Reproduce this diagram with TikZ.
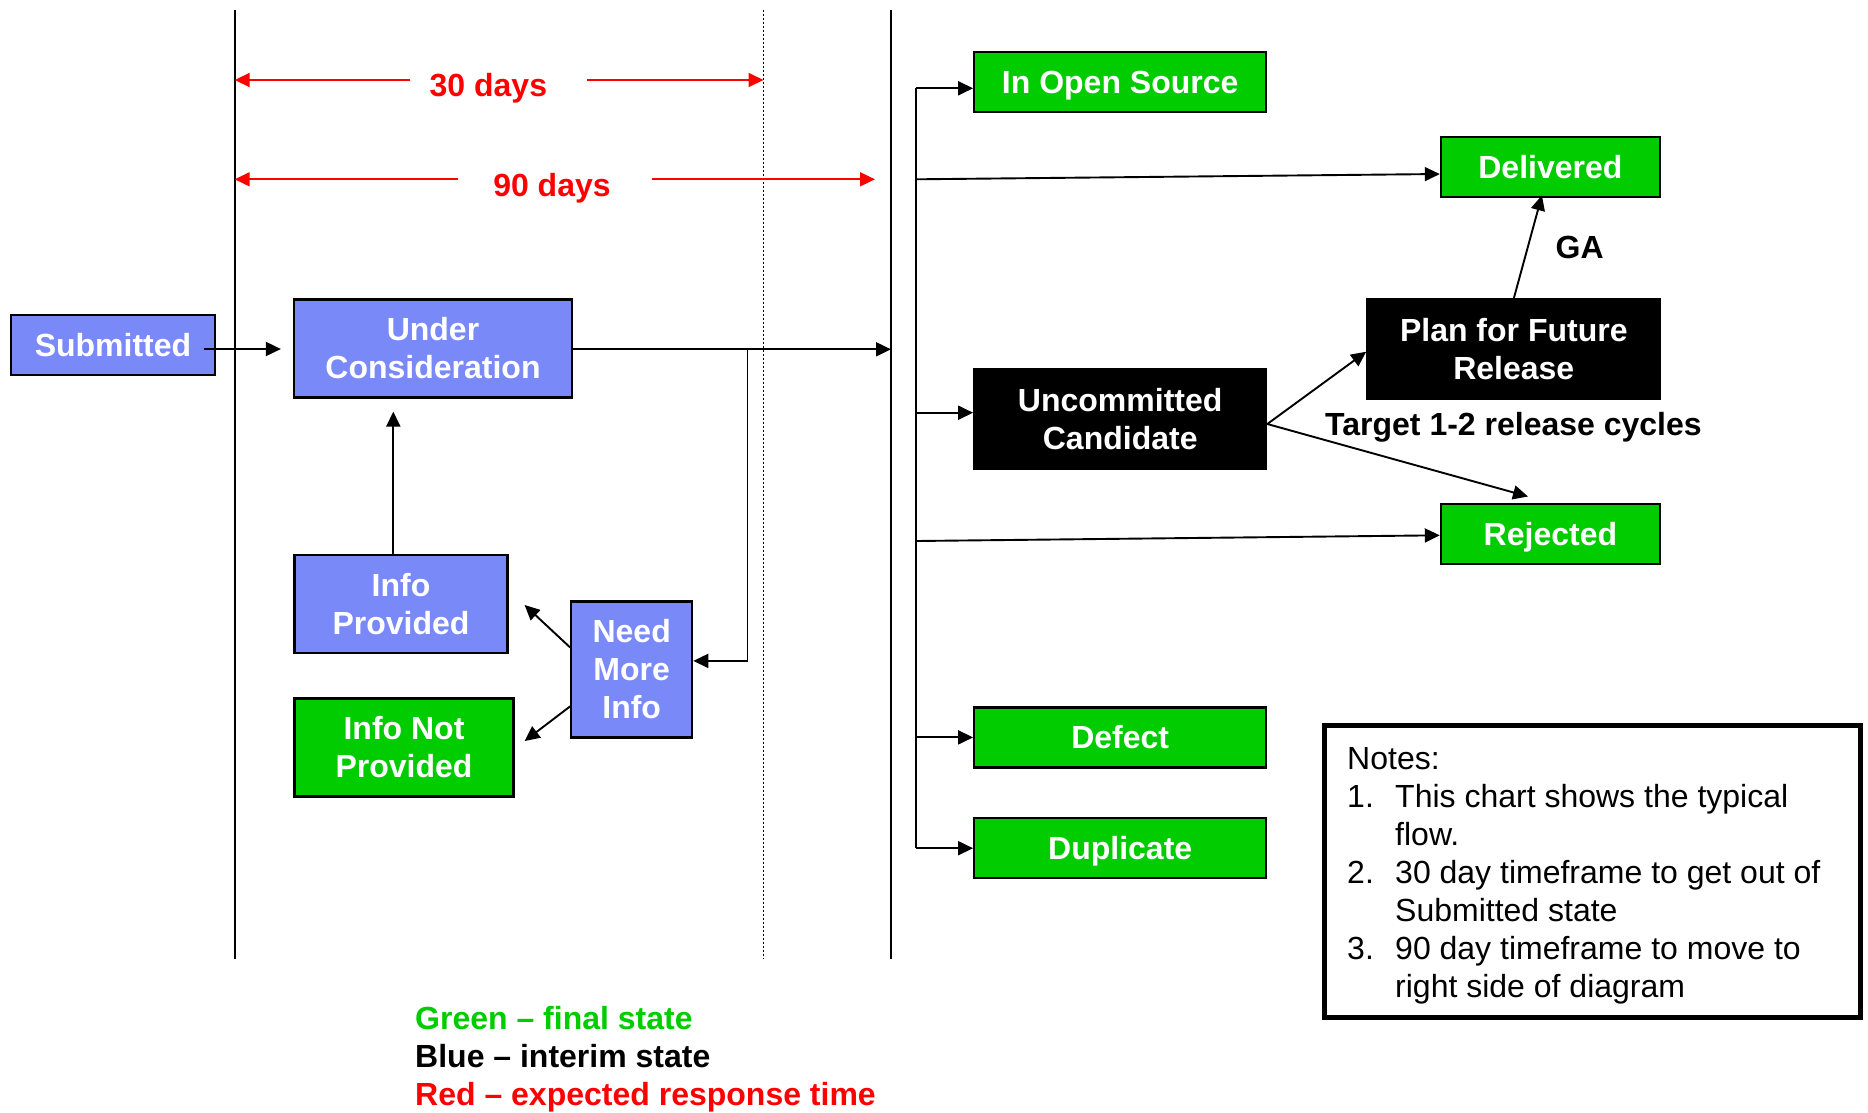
\documentclass[tikz,border=0pt]{standalone}
\usepackage{fontspec}
\setmainfont{Liberation Sans}
\usetikzlibrary{arrows.meta,calc}
\definecolor{boxblue}{RGB}{122,137,248}
\definecolor{boxgreen}{RGB}{0,204,0}
\definecolor{txtred}{RGB}{255,0,0}
\begin{document}
\begin{tikzpicture}[x=1pt,y=-1pt,
  every node/.style={font=\fontsize{32}{38}\selectfont\bfseries, inner sep=0pt},
  stbox/.style={draw=black, line width=2.2pt, text=white, align=center},
  bluebox/.style={stbox, fill=boxblue},
  greenbox/.style={stbox, fill=boxgreen},
  blackbox/.style={stbox, fill=black},
  oneline/.style={text height=23pt, text depth=0pt},
  ln/.style={line width=1.9pt},
  arr/.style={line width=1.9pt, -{Triangle[length=15pt,width=14pt]}},
  rarr/.style={draw=txtred, line width=1.9pt, -{Triangle[length=15pt,width=14pt]}},
  redlbl/.style={text=txtred, anchor=base},
]
\useasboundingbox (0,0) rectangle (1868,1112);

% vertical guide lines
\coordinate (LT) at (234.7,9.5);  \coordinate (LB) at (234.7,959);
\coordinate (DT) at (763.5,9.5);  \coordinate (DB) at (763.5,959);
\coordinate (RT) at (891,9.5);    \coordinate (RB) at (891,959);
\draw[ln] (LT) -- (LB);
\draw[ln] (RT) -- (RB);
\draw[line width=1.2pt, dash pattern=on 2pt off 2pt] (DT) -- (DB);

% response-time arrows
\node[redlbl] (t30) at (488.4,96) {30 days};
\node[redlbl] (t90) at (552,196.7) {90 days};
\coordinate (L30) at (234.7,80);  \coordinate (R30) at (763.5,80);
\coordinate (L90) at (234.7,179.3); \coordinate (R90) at (875,179.3);
\draw[rarr] ([xshift=-19pt]t30.west |- L30) -- (L30);
\draw[rarr] ([xshift=40pt]t30.east |- R30) -- (R30);
\draw[rarr] ([xshift=-35pt]t90.west |- L90) -- (L90);
\draw[rarr] ([xshift=41pt]t90.east |- R90) -- (R90);

% left part
\node[bluebox, oneline, minimum width=204, minimum height=60] (sub) at (113,345) {Submitted};
\node[bluebox, minimum width=278, minimum height=98] (uc) at (433,348.5) {Under\\Consideration};
\node[bluebox, minimum width=213, minimum height=98] (ip) at (401,604) {Info\\Provided};
\node[greenbox, minimum width=219, minimum height=98] (inp) at (404,747.5) {Info Not\\Provided};
\node[bluebox, minimum width=121, minimum height=136] (nmi) at (631.7,669.4) {Need\\More\\Info};

\coordinate (BR) at (747.5,0);
\draw[arr] ([xshift=-12pt,yshift=-4pt]sub.east) -- ([xshift=-12pt,yshift=-4pt]sub.east -| uc.west);
\draw[arr] ([yshift=-0.8pt]uc.east) -- ([yshift=-0.8pt]uc.east -| RT);
\draw[arr] ([yshift=-0.8pt]uc.east -| BR) |- ([yshift=8.5pt]nmi.east);
\draw[arr, shorten >=13pt] ([xshift=-7.7pt]ip.north) -- ([xshift=-7.7pt]ip.north |- uc.south);
\draw[arr] ([yshift=22pt]nmi.west) -- ([xshift=16pt,yshift=-1pt]ip.east);
\draw[arr] ([yshift=-37pt]nmi.west) -- ([xshift=10pt,yshift=6.5pt]inp.east);

% right part
\node[greenbox, oneline, minimum width=292, minimum height=60] (ios) at (1120.2,81.7) {In Open Source};
\node[greenbox, oneline, minimum width=219, minimum height=60] (del) at (1550.4,167.3) {Delivered};
\node[blackbox, minimum width=292, minimum height=99] (ucc) at (1120.2,419) {Uncommitted\\Candidate};
\node[blackbox, minimum width=293, minimum height=99] (plan) at (1513.8,349) {Plan for Future\\Release};
\node[greenbox, oneline, minimum width=219, minimum height=60] (rej) at (1550.4,534.2) {Rejected};
\node[greenbox, oneline, minimum width=292, minimum height=60] (def) at (1120.2,737.4) {Defect};
\node[greenbox, oneline, minimum width=292, minimum height=60] (dup) at (1120.2,848.2) {Duplicate};

\coordinate (BT) at (916.3,88.3);
\coordinate (BB) at (916.3,848.2);
\coordinate (BD) at (916.3,179.3);
\coordinate (BU) at (916.3,412.7);
\coordinate (BJ) at (916.3,541);
\draw[ln] (BT) -- (BB);
\draw[arr] (BT) -- (BT -| ios.west);
\draw[arr] (BD) -- ([yshift=-6.7pt]del.west);
\draw[arr] (BU) -- (BU -| ucc.west);
\draw[arr] (BJ) -- ([yshift=-1.1pt]rej.west);
\draw[arr] (BT |- def.west) -- (def.west);
\draw[arr] (BB) -- (dup.west);

\draw[arr] ([yshift=-5pt]ucc.east) -- ([yshift=-2.7pt]plan.west);
\draw[arr] ([yshift=-5pt]ucc.east) -- ([xshift=-22.4pt,yshift=6.6pt]rej.north);
\draw[arr] (plan.north) -- ([xshift=-8.5pt,yshift=3pt]del.south);

\node[anchor=base] (ga) at (1579.7,258) {GA};
\node[anchor=base west] (tgt) at (1325,435) {Target 1-2 release cycles};

% notes
\draw[line width=5.5pt] (1324.5,725.5) rectangle (1860.5,1017.5);
\node[anchor=base west, font=\fontsize{32}{38}\selectfont] (notes) at (1347,769.3)
{\begin{tabular}[t]{@{}p{48pt}@{}l@{}}
\multicolumn{2}{@{}l@{}}{Notes:}\\
1. & This chart shows the typical\\
   & flow.\\
2. & 30 day timeframe to get out of\\
   & Submitted state\\
3. & 90 day timeframe to move to\\
   & right side of diagram
\end{tabular}};

% legend
\node[anchor=base west, text=boxgreen] (lg1) at (415,1029.3) {Green -- final state};
\node[anchor=base west, text=black] (lg2) at (415,1067) {Blue -- interim state};
\node[anchor=base west, text=txtred] (lg3) at (415,1105) {Red -- expected response time};
\end{tikzpicture}
\end{document}
